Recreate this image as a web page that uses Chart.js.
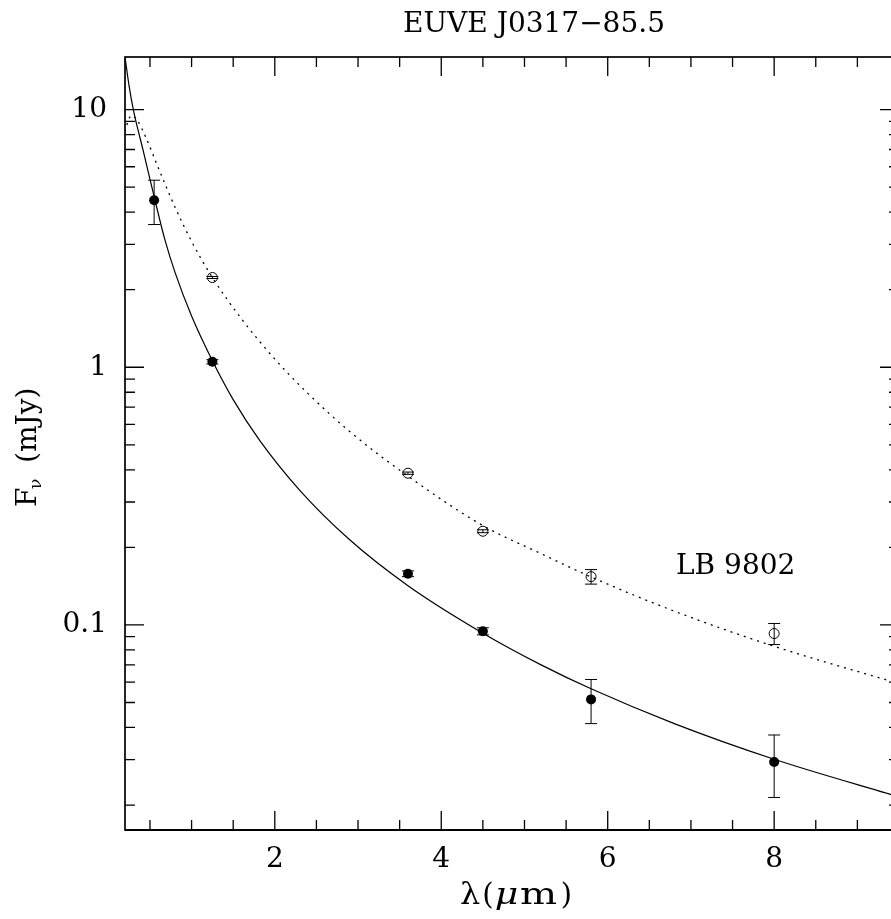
<!DOCTYPE html>
<html>
<head>
<meta charset="utf-8">
<script src="https://cdn.jsdelivr.net/npm/chart.js@4"></script>
<style>
  html, body { margin: 0; padding: 0; background: #fff; overflow: hidden; }
  #wrap { width: 905px; height: 919px; }
</style>
</head>
<body>
<div id="wrap"><canvas id="sedChart" width="905" height="919"></canvas></div>
<script>
// photometry of EUVE J0317-85.5 (filled) and LB 9802 (open)
const lamFilled = [0.55, 1.25, 3.6, 4.5, 5.8, 8.0];
const fluxFilled = [4.45, 1.05, 0.158, 0.0945, 0.0514, 0.0294];
const errFilled = [0.87, 0.02, 0.004, 0.003, 0.010, 0.008];

const lamOpen = [1.25, 3.6, 4.5, 5.8, 8.0];
const fluxOpen = [2.23, 0.388, 0.231, 0.154, 0.0926];
const errOpen = [0.02, 0.004, 0.003, 0.010, 0.0087];

// model curves
const solidX = [0.2, 0.25, 0.3, 0.42, 0.56, 0.68, 0.8, 1.0, 1.25, 1.5, 1.82, 2.3, 2.9, 3.6, 4.5, 5.2, 5.8, 6.8, 8.0, 9.5];
const solidY = [16, 12.3, 10, 6.9, 4.45, 3.12, 2.34, 1.58, 1.06, 0.749, 0.519, 0.333, 0.214, 0.142, 0.0929, 0.0700, 0.0565, 0.0414, 0.0301, 0.0215];
const dotX = [0.2, 0.24, 0.28, 0.35, 0.45, 0.6, 0.8, 1.0, 1.25, 1.6, 2.0, 2.4, 2.9, 3.6, 4.5, 5.2, 5.8, 6.8, 8.0, 9.5];
const dotY = [8.2, 9.1, 9.49, 9.06, 7.81, 5.94, 4.19, 3.08, 2.23, 1.541, 1.076, 0.790, 0.563, 0.378, 0.243, 0.189, 0.1535, 0.1131, 0.0826, 0.0592];

const xTicks = [2, 4, 6, 8];
const xTickLabels = ['2', '4', '6', '8'];
const yTicks = [0.1, 1, 10];
const yTickLabels = ['0.1', '1', '10'];

const FONT = 'DejaVu Serif';

function pts(xs, ys) {
    return xs.map((x, i) => ({x: x, y: ys[i]}));
}

const errorBars = {
    id: 'errorBars',
    afterDatasetsDraw(chart) {
        const ctx = chart.ctx;
        const xs = chart.scales.x, ys = chart.scales.y;
        const sets = [[lamFilled, fluxFilled, errFilled], [lamOpen, fluxOpen, errOpen]];
        ctx.save();
        ctx.strokeStyle = '#000';
        ctx.lineWidth = 1;
        ctx.beginPath();
        sets.forEach(s => {
            for (let i = 0; i < s[0].length; i++) {
                const px = xs.getPixelForValue(s[0][i]);
                const top = ys.getPixelForValue(s[1][i] + s[2][i]);
                const bot = ys.getPixelForValue(s[1][i] - s[2][i]);
                ctx.moveTo(px, top); ctx.lineTo(px, bot);
                ctx.moveTo(px - 6, top); ctx.lineTo(px + 6, top);
                ctx.moveTo(px - 6, bot); ctx.lineTo(px + 6, bot);
            }
        });
        ctx.stroke();
        ctx.restore();
    }
};

// draws a glyph centred at x, stretched sideways to the width of the plot font
function wideGlyph(ctx, txt, x, y, font, sx) {
    ctx.save();
    ctx.font = font;
    ctx.translate(x, y);
    ctx.scale(sx, 1);
    ctx.fillText(txt, 0, 0);
    ctx.restore();
}

const frame = {
    id: 'frame',
    afterDraw(chart) {
        const ctx = chart.ctx;
        const a = chart.chartArea;
        const xs = chart.scales.x, ys = chart.scales.y;
        ctx.save();
        ctx.strokeStyle = '#000';
        ctx.lineWidth = 1.3;
        ctx.beginPath();
        for (let v = 0.5; v <= xs.max; v += 0.5) {
            const px = xs.getPixelForValue(v);
            const len = (v % 2 === 0) ? 19 : 10;
            ctx.moveTo(px, a.bottom); ctx.lineTo(px, a.bottom - len);
            ctx.moveTo(px, a.top); ctx.lineTo(px, a.top + len);
        }
        for (let e = -2; e <= 1; e++) {
            for (let k = 1; k <= 9; k++) {
                const v = k * Math.pow(10, e);
                if (v < ys.min || v > ys.max) continue;
                const py = ys.getPixelForValue(v);
                const len = k === 1 ? 19 : 10;
                ctx.moveTo(a.left, py); ctx.lineTo(a.left + len, py);
                ctx.moveTo(a.right, py); ctx.lineTo(a.right - len, py);
            }
        }
        ctx.stroke();
        ctx.lineWidth = 1.7;
        ctx.strokeRect(a.left, a.top, a.right - a.left, a.bottom - a.top);
        ctx.lineWidth = 2.2;
        ctx.beginPath();
        ctx.moveTo(a.left, a.bottom); ctx.lineTo(a.right, a.bottom);
        ctx.stroke();

        ctx.fillStyle = '#000';
        ctx.textBaseline = 'alphabetic';
        // title
        ctx.font = '28px "' + FONT + '"';
        ctx.textAlign = 'center';
        ctx.fillText('EUVE J0317\u221285.5', 534, 32);
        // label for second star
        ctx.textAlign = 'left';
        ctx.fillText('LB 9802', 676, 574);

        // x axis title: lambda(mu m), glyph by glyph
        ctx.textAlign = 'center';
        const f29 = '29px "' + FONT + '"';
        wideGlyph(ctx, '\u03bb', 470, 904, f29, 1.1);
        wideGlyph(ctx, '(', 488, 904, f29, 1);
        wideGlyph(ctx, '\u03bc', 506.5, 904, 'italic ' + f29, 1.25);
        wideGlyph(ctx, 'm', 538.5, 904, f29, 1.35);
        wideGlyph(ctx, ')', 566.5, 904, f29, 1);

        // y axis title: F_nu (mJy)
        ctx.textAlign = 'left';
        ctx.translate(36, 507);
        ctx.rotate(-Math.PI / 2);
        ctx.font = '28px "' + FONT + '"';
        ctx.fillText('F', 0, 0);
        ctx.font = '17px "' + FONT + '"';
        ctx.fillText('\u03bd', 18, 5);
        ctx.font = '28px "' + FONT + '"';
        ctx.fillText('(mJy)', 44, 0);
        ctx.restore();
    }
};

const ctx1 = document.getElementById('sedChart').getContext('2d');
const sedChart = new Chart(ctx1, {
    type: 'scatter',
    data: {
        datasets: [
            {
                label: 'model',
                data: pts(solidX, solidY),
                showLine: true,
                borderColor: '#000',
                borderWidth: 1.2,
                pointRadius: 0,
                cubicInterpolationMode: 'monotone'
            },
            {
                label: 'LB 9802 model',
                data: pts(dotX, dotY),
                showLine: true,
                borderColor: '#000',
                borderWidth: 1.3,
                borderDash: [2, 5],
                pointRadius: 0,
                cubicInterpolationMode: 'monotone'
            },
            {
                label: 'EUVE J0317-85.5',
                data: pts(lamFilled, fluxFilled),
                pointRadius: 5,
                pointBackgroundColor: '#000',
                pointBorderColor: '#000',
                pointBorderWidth: 0
            },
            {
                label: 'LB 9802',
                data: pts(lamOpen, fluxOpen),
                pointRadius: 5,
                pointBackgroundColor: 'rgba(0,0,0,0)',
                pointBorderColor: '#000',
                pointBorderWidth: 1
            }
        ]
    },
    options: {
        responsive: false,
        animation: false,
        devicePixelRatio: 1,
        layout: {padding: {top: 57, right: 2, left: 0, bottom: 0}},
        plugins: {legend: {display: false}, tooltip: {enabled: false}, title: {display: false}},
        scales: {
            x: {
                type: 'linear',
                min: 0.2,
                max: 9.5,
                grid: {display: false, drawTicks: false},
                border: {display: false},
                afterBuildTicks: s => { s.ticks = xTicks.map(v => ({value: v})); },
                afterFit: s => { s.height = 89; s.paddingLeft = 0; s.paddingRight = 0; },
                ticks: {
                    color: '#000',
                    font: {family: FONT, size: 28},
                    padding: 13,
                    maxRotation: 0,
                    autoSkip: false,
                    callback: v => xTickLabels[xTicks.indexOf(v)]
                }
            },
            y: {
                type: 'logarithmic',
                min: 0.016,
                max: 16,
                grid: {display: false, drawTicks: false},
                border: {display: false},
                afterBuildTicks: s => { s.ticks = yTicks.map(v => ({value: v})); },
                afterFit: s => { s.width = 125; },
                ticks: {
                    color: '#000',
                    font: {family: FONT, size: 28},
                    padding: 18,
                    autoSkip: false,
                    callback: v => yTickLabels[yTicks.indexOf(v)]
                }
            }
        }
    },
    plugins: [errorBars, frame]
});
</script>
</body>
</html>
